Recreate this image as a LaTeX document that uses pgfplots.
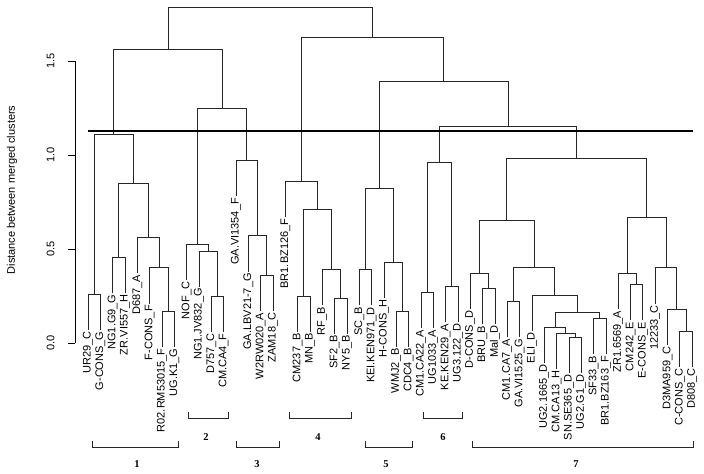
\documentclass[border=0pt]{standalone}
\usepackage{pgfplots}
\pgfplotsset{compat=1.18}
\usepackage{fontspec}
\setmainfont{Liberation Sans}
\newfontfamily\numserif{Liberation Serif}
\tikzset{
  lbl/.style={rotate=90, anchor=east, inner sep=1.5bp, font=\fontsize{11bp}{13bp}\selectfont},
  num/.style={font=\numserif\bfseries\fontsize{10.5bp}{12bp}\selectfont, inner sep=0pt},
}
\begin{document}
\begin{tikzpicture}
\begin{axis}[
  x=12.33bp, y=188bp,
  xmin=-0.054, xmax=51, ymin=0, ymax=1.5,
  clip=false,
  axis y line*=left, axis x line=none,
  ytick={0,0.5,1,1.5},
  tick align=outside, major tick length=7bp,
  every tick/.style={black, line width=0.6bp},
  y axis line style={black, line width=0.6bp},
  /pgf/number format/fixed, /pgf/number format/fixed zerofill,
  /pgf/number format/precision=1, /pgf/number format/assume math mode=true,
  yticklabel style={rotate=90, anchor=south, font=\fontsize{11bp}{13bp}\selectfont},
  yticklabel shift=10bp,
  dend/.style={black!85, line width=0.7bp, mark=none},
]
% cluster 1
\addplot[dend] coordinates {(1,0.07)(1,0.26)(2,0.26)(2,0.07)};
\addplot[dend] coordinates {(3,0.267)(3,0.457)(4,0.457)(4,0.267)};
\addplot[dend] coordinates {(7,-0.02)(7,0.17)(8,0.17)(8,-0.02)};
\addplot[dend] coordinates {(6,0.21)(6,0.40)(7.5,0.40)(7.5,0.17)};
\addplot[dend] coordinates {(5,0.37)(5,0.56)(6.75,0.56)(6.75,0.40)};
\addplot[dend] coordinates {(3.5,0.457)(3.5,0.85)(5.875,0.85)(5.875,0.56)};
\addplot[dend] coordinates {(1.5,0.26)(1.5,1.11)(4.6875,1.11)(4.6875,0.85)};
% cluster 2
\addplot[dend] coordinates {(11,0.06)(11,0.25)(12,0.25)(12,0.06)};
\addplot[dend] coordinates {(10,0.30)(10,0.49)(11.5,0.49)(11.5,0.25)};
\addplot[dend] coordinates {(9,0.335)(9,0.525)(10.75,0.525)(10.75,0.49)};
% cluster 3
\addplot[dend] coordinates {(15,0.17)(15,0.36)(16,0.36)(16,0.17)};
\addplot[dend] coordinates {(14,0.38)(14,0.57)(15.5,0.57)(15.5,0.36)};
\addplot[dend] coordinates {(13,0.78)(13,0.97)(14.75,0.97)(14.75,0.57)};
\addplot[dend] coordinates {(9.875,0.525)(9.875,1.25)(13.875,1.25)(13.875,0.97)};
\addplot[dend] coordinates {(3.09375,1.11)(3.09375,1.56)(11.875,1.56)(11.875,1.25)};
% cluster 4
\addplot[dend] coordinates {(18,0.06)(18,0.25)(19,0.25)(19,0.06)};
\addplot[dend] coordinates {(21,0.05)(21,0.24)(22,0.24)(22,0.05)};
\addplot[dend] coordinates {(20,0.20)(20,0.39)(21.5,0.39)(21.5,0.24)};
\addplot[dend] coordinates {(18.5,0.25)(18.5,0.71)(20.75,0.71)(20.75,0.39)};
\addplot[dend] coordinates {(17,0.67)(17,0.86)(19.625,0.86)(19.625,0.71)};
% cluster 5
\addplot[dend] coordinates {(23,0.20)(23,0.39)(24,0.39)(24,0.20)};
\addplot[dend] coordinates {(26,-0.02)(26,0.17)(27,0.17)(27,-0.02)};
\addplot[dend] coordinates {(25,0.24)(25,0.43)(26.5,0.43)(26.5,0.17)};
\addplot[dend] coordinates {(23.5,0.39)(23.5,0.82)(25.75,0.82)(25.75,0.43)};
% cluster 6
\addplot[dend] coordinates {(28,0.08)(28,0.27)(29,0.27)(29,0.08)};
\addplot[dend] coordinates {(30,0.11)(30,0.30)(31,0.30)(31,0.11)};
\addplot[dend] coordinates {(28.5,0.27)(28.5,0.96)(30.5,0.96)(30.5,0.30)};
% cluster 7
\addplot[dend] coordinates {(33,0.10)(33,0.29)(34,0.29)(34,0.10)};
\addplot[dend] coordinates {(32,0.18)(32,0.37)(33.5,0.37)(33.5,0.29)};
\addplot[dend] coordinates {(35,0.03)(35,0.22)(36,0.22)(36,0.03)};
\addplot[dend] coordinates {(40,-0.16)(40,0.03)(41,0.03)(41,-0.16)};
\addplot[dend] coordinates {(39,-0.137)(39,0.053)(40.5,0.053)(40.5,0.03)};
\addplot[dend] coordinates {(38,-0.105)(38,0.085)(39.75,0.085)(39.75,0.053)};
\addplot[dend] coordinates {(42,-0.06)(42,0.13)(43,0.13)(43,-0.06)};
\addplot[dend] coordinates {(38.875,0.085)(38.875,0.165)(42.5,0.165)(42.5,0.13)};
\addplot[dend] coordinates {(37,0.065)(37,0.255)(40.6875,0.255)(40.6875,0.165)};
\addplot[dend] coordinates {(35.5,0.22)(35.5,0.40)(38.84375,0.40)(38.84375,0.255)};
\addplot[dend] coordinates {(32.75,0.37)(32.75,0.65)(37.171875,0.65)(37.171875,0.40)};
\addplot[dend] coordinates {(45,0.12)(45,0.31)(46,0.31)(46,0.12)};
\addplot[dend] coordinates {(44,0.18)(44,0.37)(45.5,0.37)(45.5,0.31)};
\addplot[dend] coordinates {(49,-0.126)(49,0.064)(50,0.064)(50,-0.126)};
\addplot[dend] coordinates {(48,-0.01)(48,0.18)(49.5,0.18)(49.5,0.064)};
\addplot[dend] coordinates {(47,0.21)(47,0.40)(48.75,0.40)(48.75,0.18)};
\addplot[dend] coordinates {(44.75,0.37)(44.75,0.67)(47.875,0.67)(47.875,0.40)};
\addplot[dend] coordinates {(34.9609,0.65)(34.9609,0.98)(46.3125,0.98)(46.3125,0.67)};
% upper levels
\addplot[dend] coordinates {(29.5,0.96)(29.5,1.15)(40.6367,1.15)(40.6367,0.98)};
\addplot[dend] coordinates {(24.625,0.82)(24.625,1.394)(35.0684,1.394)(35.0684,1.15)};
\addplot[dend] coordinates {(18.3125,0.86)(18.3125,1.628)(29.8467,1.628)(29.8467,1.394)};
\addplot[dend] coordinates {(7.484375,1.56)(7.484375,1.787)(24.0796,1.787)(24.0796,1.628)};
% cut line
\addplot[black, line width=2.8bp, mark=none] coordinates {(1,1.128)(50.07,1.128)};
% brackets
\addplot[dend] coordinates {(1.324,-0.521)(1.324,-0.553)(8.299,-0.553)(8.299,-0.521)};
\addplot[dend] coordinates {(9.110,-0.367)(9.110,-0.399)(12.354,-0.399)(12.354,-0.367)};
\addplot[dend] coordinates {(13.003,-0.521)(13.003,-0.553)(16.49,-0.553)(16.49,-0.521)};
\addplot[dend] coordinates {(17.30,-0.367)(17.30,-0.399)(22.33,-0.399)(22.33,-0.367)};
\addplot[dend] coordinates {(23.47,-0.521)(23.47,-0.553)(27.28,-0.553)(27.28,-0.521)};
\addplot[dend] coordinates {(28.17,-0.367)(28.17,-0.399)(31.33,-0.399)(31.33,-0.367)};
\addplot[dend] coordinates {(32.14,-0.521)(32.14,-0.553)(50.07,-0.553)(50.07,-0.521)};
\node[num] at (axis cs:4.97,-0.644) {1};
\node[num] at (axis cs:10.57,-0.50) {2};
\node[num] at (axis cs:14.71,-0.644) {3};
\node[num] at (axis cs:19.65,-0.50) {4};
\node[num] at (axis cs:25.17,-0.644) {5};
\node[num] at (axis cs:29.79,-0.50) {6};
\node[num] at (axis cs:40.58,-0.644) {7};
% leaf labels
\node[lbl] at (axis cs:1,0.07) {UR29\_C};
\node[lbl] at (axis cs:2,0.07) {G-CONS\_G};
\node[lbl] at (axis cs:3,0.267) {NG1.G9\_G};
\node[lbl] at (axis cs:4,0.267) {ZR.VI557\_H};
\node[lbl] at (axis cs:5,0.37) {D687\_A};
\node[lbl] at (axis cs:6,0.21) {F-CONS\_F};
\node[lbl] at (axis cs:7,-0.02) {R02.RM53015\_F};
\node[lbl] at (axis cs:8,-0.02) {UG.K1\_G};
\node[lbl] at (axis cs:9,0.335) {NOF\_C};
\node[lbl] at (axis cs:10,0.30) {NG1.JV832\_G};
\node[lbl] at (axis cs:11,0.06) {D757\_C};
\node[lbl] at (axis cs:12,0.06) {CM.CA4\_F};
\node[lbl] at (axis cs:13,0.78) {GA.VI1354\_F};
\node[lbl] at (axis cs:14,0.38) {GA.LBV21-7\_G};
\node[lbl] at (axis cs:15,0.17) {W2RW020\_A};
\node[lbl] at (axis cs:16,0.17) {ZAM18\_C};
\node[lbl] at (axis cs:17,0.67) {BR1.BZ126\_F};
\node[lbl] at (axis cs:18,0.06) {CM237\_B};
\node[lbl] at (axis cs:19,0.06) {MN\_B};
\node[lbl] at (axis cs:20,0.20) {RF\_B};
\node[lbl] at (axis cs:21,0.05) {SF2\_B};
\node[lbl] at (axis cs:22,0.05) {NY5\_B};
\node[lbl] at (axis cs:23,0.20) {SC\_B};
\node[lbl] at (axis cs:24,0.20) {KEI.KEN971\_D};
\node[lbl] at (axis cs:25,0.24) {H-CONS\_H};
\node[lbl] at (axis cs:26,-0.02) {WMJ2\_B};
\node[lbl] at (axis cs:27,-0.02) {CDC4\_B};
\node[lbl] at (axis cs:28,0.08) {CM1.CA22\_A};
\node[lbl] at (axis cs:29,0.08) {UG1033\_A};
\node[lbl] at (axis cs:30,0.11) {KE.KEN29\_A};
\node[lbl] at (axis cs:31,0.11) {UG3.122\_D};
\node[lbl] at (axis cs:32,0.18) {D-CONS\_D};
\node[lbl] at (axis cs:33,0.10) {BRU\_B};
\node[lbl] at (axis cs:34,0.10) {Mal\_D};
\node[lbl] at (axis cs:35,0.03) {CM1.CA7\_A};
\node[lbl] at (axis cs:36,0.03) {GA.VI1525\_G};
\node[lbl] at (axis cs:37,0.065) {ELI\_D};
\node[lbl] at (axis cs:38,-0.105) {UG2.1665\_D};
\node[lbl] at (axis cs:39,-0.137) {CM.CA13\_H};
\node[lbl] at (axis cs:40,-0.16) {SN.SE365\_D};
\node[lbl] at (axis cs:41,-0.16) {UG2.G1\_D};
\node[lbl] at (axis cs:42,-0.06) {SF33\_B};
\node[lbl] at (axis cs:43,-0.06) {BR1.BZ163\_F};
\node[lbl] at (axis cs:44,0.18) {ZR1.6569\_A};
\node[lbl] at (axis cs:45,0.12) {CM242\_E};
\node[lbl] at (axis cs:46,0.12) {E-CONS\_E};
\node[lbl] at (axis cs:47,0.21) {12233\_C};
\node[lbl] at (axis cs:48,-0.01) {D3MA959\_C};
\node[lbl] at (axis cs:49,-0.126) {C-CONS\_C};
\node[lbl] at (axis cs:50,-0.126) {D808\_C};
% y label
\node[rotate=90, font=\fontsize{11bp}{13bp}\selectfont] at (axis cs:-5.164,0.814) {Distance between merged clusters};
\coordinate (bbl) at (axis cs:-6.137,-0.6915);
\coordinate (btr) at (axis cs:50.96,1.8245);
\end{axis}
\pgfresetboundingbox
\path[use as bounding box] (bbl) rectangle (btr);
\end{tikzpicture}
\end{document}
